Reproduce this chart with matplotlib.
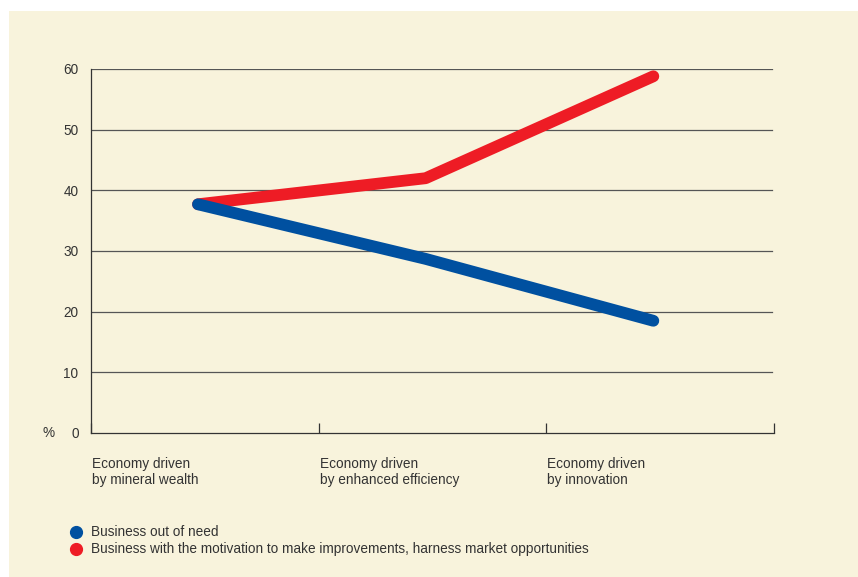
import matplotlib
matplotlib.use('Agg')
import matplotlib.pyplot as plt
from matplotlib.patches import Rectangle
from matplotlib.lines import Line2D

# Chart data
categories = ['Economy driven\nby mineral wealth',
              'Economy driven\nby enhanced efficiency',
              'Economy driven\nby innovation']
need_values = [37.7, 28.7, 18.5]
improve_values = [37.7, 42.0, 58.8]
series_labels = ['Business out of need',
                 'Business with the motivation to make improvements, harness market opportunities']
y_ticks = [0, 10, 20, 30, 40, 50, 60]

BG = '#f8f3dc'
BLUE = '#0050a0'
RED = '#ee1c25'
TEXT = '#333333'
FS = 9.8

plt.rcParams['font.family'] = ['Liberation Sans', 'DejaVu Sans']

W, H = 858, 577
fig = plt.figure(figsize=(W / 100, H / 100), dpi=100, facecolor='white')
fig.add_artist(Rectangle((9 / W, 0), 1 - 9 / W, 1 - 11 / H, transform=fig.transFigure,
                         facecolor=BG, edgecolor='none', zorder=0))

ax = fig.add_axes([91 / W, (H - 433) / H, (774 - 91) / W, (433 - 69) / H])
ax.patch.set_alpha(0)

x = list(range(len(categories)))
ax.set_xlim(-0.47, 2.53)
ax.set_ylim(0, 60)

for yv in y_ticks[1:]:
    ax.axhline(yv, xmin=0, xmax=0.997, color='#555555', lw=0.9, zorder=1)

ax.plot(x, need_values, color=BLUE, lw=8.5, solid_capstyle='round',
        solid_joinstyle='round', zorder=3)
ax.plot(x, improve_values, color=RED, lw=8.5, solid_capstyle='round',
        solid_joinstyle='round', zorder=2)

for s in ['top', 'right']:
    ax.spines[s].set_visible(False)
for s in ['left', 'bottom']:
    ax.spines[s].set_color('#333333')
    ax.spines[s].set_linewidth(0.9)

ax.set_yticks(y_ticks)
ax.set_yticklabels([str(v) for v in y_ticks], fontsize=FS, color=TEXT)
ax.tick_params(axis='y', length=0, pad=9)

bounds = [-0.47, 0.53, 1.53, 2.53]
ax.set_xticks(bounds)
ax.set_xticklabels([])
ax.tick_params(axis='x', direction='in', length=7, width=0.9, color='#333333')

for i, cat in enumerate(categories):
    ax.text(bounds[i] + 0.005, -3.9, cat, fontsize=FS, color=TEXT,
            ha='left', va='top', linespacing=1.22)

ax.text(-0.63, 0, '%', fontsize=FS, color=TEXT, ha='right', va='center')

# Legend
for i, (lab, col) in enumerate(zip(series_labels, [BLUE, RED])):
    yy = 1 - (532 + 16.5 * i) / H
    fig.add_artist(Line2D([76 / W], [yy], transform=fig.transFigure, marker='o',
                          markersize=8.5, color=col, linestyle='none'))
    fig.text(91 / W, yy, lab, fontsize=FS, color=TEXT, ha='left', va='center')

fig.savefig('out.png', dpi=100, facecolor='white')
